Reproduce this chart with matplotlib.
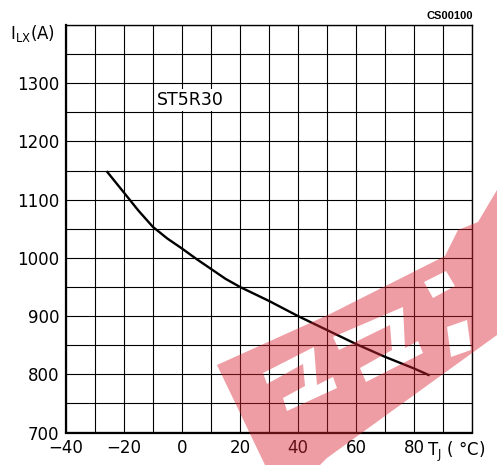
import matplotlib
matplotlib.use("Agg")
import matplotlib.pyplot as plt
import numpy as np
from matplotlib.path import Path
from matplotlib.patches import PathPatch
from matplotlib.transforms import Affine2D

# data
temp_c = [-26, -20, -15, -10, -5, 0, 5, 10, 15, 20, 30, 40, 50, 60, 70, 80, 85.4]
current_a = [1149, 1112, 1081, 1053, 1033, 1016, 998, 981, 964, 950, 926, 900, 876, 852, 830, 810, 798]
x_ticks = [-40, -20, 0, 20, 40, 60, 80]
y_ticks = [700, 800, 900, 1000, 1100, 1200, 1300]

W, H = 497, 465
fig = plt.figure(figsize=(W / 100, H / 100), dpi=100)
ax = fig.add_axes([66 / W, (H - 432.5) / H, (472 - 66) / W, (432.5 - 25) / H])
ax.set_xlim(-40, 100)
ax.set_ylim(700, 1400)

xg = np.arange(-40, 101, 10)
yg = np.arange(700, 1401, 50)
ax.set_xticks(xg)
ax.set_yticks(yg)
ax.grid(True, color="black", linewidth=0.8)
ax.set_axisbelow(True)
ax.tick_params(length=0, pad=5, labelsize=12)
ax.set_xticklabels([("\u2212%d" % -v if v < 0 else str(v)) if v in x_ticks else "" for v in xg],
                   fontfamily="DejaVu Sans")
ax.set_yticklabels([str(v) if v in y_ticks else "" for v in yg], fontfamily="DejaVu Sans")
for s in ax.spines.values():
    s.set_linewidth(1.0)
ax.spines["left"].set_linewidth(1.6)
ax.spines["bottom"].set_linewidth(1.6)

ax.plot(temp_c, current_a, color="black", linewidth=1.7, solid_capstyle="butt")

ax.text(-8.6, 1271, "ST5R30", fontsize=12.5, fontfamily="DejaVu Sans", va="center", ha="left",
        bbox=dict(facecolor="white", edgecolor="none", pad=1.5))

fig.text(10 / W, 1 - 33 / H, r"$\mathregular{I_{LX}}$(A)", fontsize=12, fontfamily="DejaVu Sans",
         va="center", ha="left")
fig.text(427 / W, 1 - 452 / H, r"T$_\mathregular{J}$ ( °C)", fontsize=12, fontfamily="DejaVu Sans",
         va="center", ha="left")
fig.text(473 / W, 1 - 16 / H, "CS00100", fontsize=8, fontweight="bold", fontfamily="Liberation Sans",
         va="center", ha="right")

# watermark (approximate), in image pixel coords
pix = Affine2D().scale(1 / W, -1 / H).translate(0, 1) + fig.transFigure
outer = [(217, 365), (330, 314), (445, 256), (458, 230), (478, 222), (497, 190), (497, 335),
         (327, 458), (320, 465), (265, 465), (217, 365)]
holes = [
    # first E
    [(263, 373), (267, 384), (303, 364), (305, 386), (283, 398), (287, 411), (337, 388),
     (333, 377), (317, 385), (314, 347), (263, 373)],
    # second E
    [(333, 337), (339, 350), (390, 325), (392, 350), (360, 368), (366, 382), (423, 353),
     (418, 341), (405, 348), (403, 307), (333, 337)],
    # P
    [(424, 282), (433, 298), (455, 286), (446, 271), (424, 282)],
    [(447, 327), (451, 357), (471, 350), (467, 320), (447, 327)],
]
verts, codes = [], []
for poly in [outer] + holes:
    verts += poly
    codes += [Path.MOVETO] + [Path.LINETO] * (len(poly) - 2) + [Path.CLOSEPOLY]
wm = PathPatch(Path(verts, codes), transform=pix, facecolor=(0.85, 0.15, 0.2), alpha=0.45,
               edgecolor="none", zorder=10)
fig.patches.append(wm)

fig.savefig("out.png", dpi=100)
